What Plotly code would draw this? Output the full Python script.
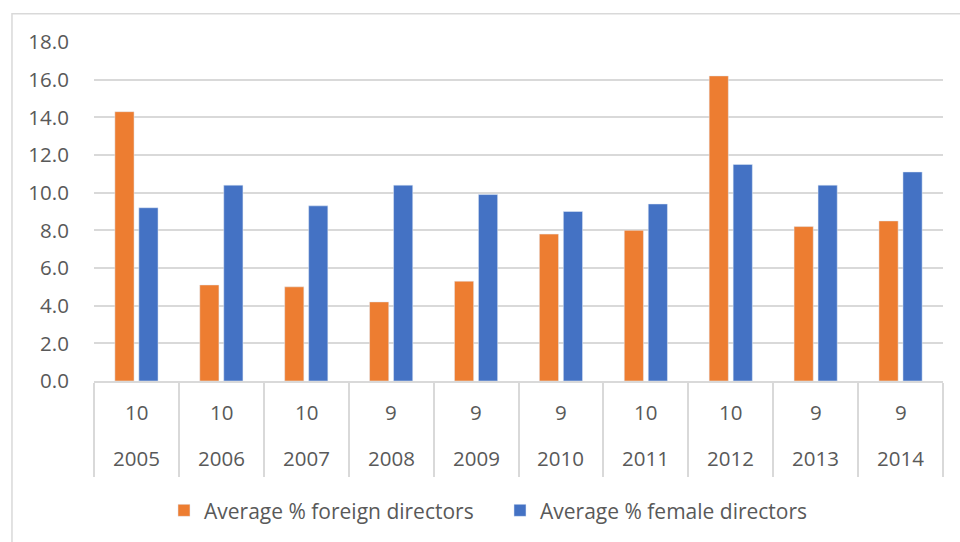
import plotly.graph_objects as go

years = ["2005", "2006", "2007", "2008", "2009", "2010", "2011", "2012", "2013", "2014"]
counts = ["10", "10", "10", "9", "9", "9", "10", "10", "9", "9"]
foreign = [14.3, 5.1, 5.0, 4.2, 5.3, 7.8, 8.0, 16.2, 8.2, 8.5]
female = [9.2, 10.4, 9.3, 10.4, 9.9, 9.0, 9.4, 11.5, 10.4, 11.1]
series_names = ["Average % foreign directors", "Average % female directors"]
y_ticks = [0, 2, 4, 6, 8, 10, 12, 14, 16, 18]

FONT = "Open Sans"
TXT = "#595959"
GRID = "#d9d9d9"

fig = go.Figure()
fig.add_trace(go.Bar(x=years, y=foreign, name=series_names[0], marker_color="#ED7D31"))
fig.add_trace(go.Bar(x=years, y=female, name=series_names[1], marker_color="#4472C4"))

annotations = []
for i, (yr, c) in enumerate(zip(years, counts)):
    annotations.append(dict(x=i, y=-0.090, xref="x", yref="paper", text=c, showarrow=False,
                            yanchor="middle", font=dict(family=FONT, size=20.5, color=TXT)))
    annotations.append(dict(x=i, y=-0.2285, xref="x", yref="paper", text=yr, showarrow=False,
                            yanchor="middle", font=dict(family=FONT, size=20.5, color=TXT)))

fig.update_layout(
    width=960, height=542,
    margin=dict(l=94, r=17, t=42, b=160),
    paper_bgcolor="white", plot_bgcolor="white",
    barmode="group", bargap=0.435, bargroupgap=0.2,
    font=dict(family=FONT, size=20, color=TXT),
    showlegend=True,
    legend=dict(orientation="h", x=0.4782, xanchor="center", y=-0.3785, yanchor="middle",
                font=dict(family=FONT, size=21, color=TXT), itemwidth=30, traceorder="normal",
                entrywidth=291, entrywidthmode="pixels"),
    annotations=annotations,
    shapes=[dict(type="rect", xref="paper", yref="paper", x0=-0.0966, x1=1.2, y0=-0.7, y1=1.083,
                 line=dict(color=GRID, width=1.5), layer="below")],
    xaxis=dict(type="category", range=[-0.5, len(years) - 0.5], showticklabels=False,
               tickson="boundaries", ticks="outside",
               ticklen=94, tickcolor=GRID, tickwidth=1.5, showline=True, linecolor=GRID,
               linewidth=1.5, showgrid=False, zeroline=False, fixedrange=True),
    yaxis=dict(range=[0, 18], tickvals=y_ticks, tickformat=".1f", showgrid=True, gridcolor=GRID,
               gridwidth=1.5, zeroline=False, ticks="outside", ticklen=20,
               tickcolor="rgba(0,0,0,0)", showline=False, fixedrange=True,
               tickfont=dict(family=FONT, size=20.5, color=TXT)),
)

fig.write_html("out.html", config={"displayModeBar": False},
               post_script="document.body.style.margin='0px';")
